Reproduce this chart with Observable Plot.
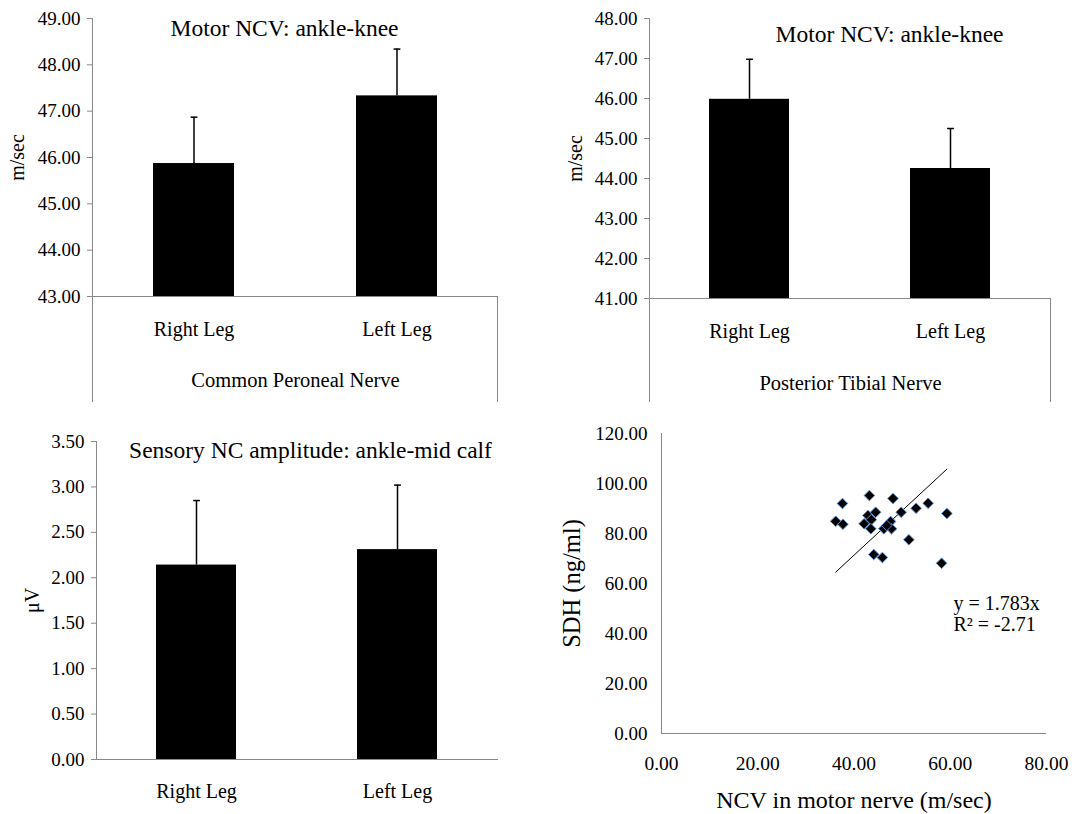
<!DOCTYPE html>
<html><head><meta charset="utf-8">
<script src="https://cdn.jsdelivr.net/npm/d3@7"></script>
<script src="https://cdn.jsdelivr.net/npm/@observablehq/plot@0.6"></script>
<style>
body{margin:0;background:#fff;}
#root{position:relative;width:1076px;height:814px;overflow:hidden;background:#fff;}
#root svg{position:absolute;}
#root svg, #root svg text{font-family:"Liberation Serif","Times New Roman",serif !important;}
</style></head><body><div id="root"></div>
<script>
// ---- data ----
const legs = ["Right Leg", "Left Leg"];
const peronealMean = [45.87, 47.33];
const peronealSD = [1.00, 1.01];
const tibialMean = [45.98, 44.25];
const tibialSD = [1.00, 1.00];
const sensoryMean = [2.14, 2.31];
const sensorySD = [0.71, 0.71];
const peronealTicks = [43, 44, 45, 46, 47, 48, 49];
const tibialTicks = [41, 42, 43, 44, 45, 46, 47, 48];
const sensoryTicks = [0, 0.5, 1, 1.5, 2, 2.5, 3, 3.5];
const ncv = [37.6, 43.2, 48.1, 36.2, 37.7, 42.1, 42.9, 43.6, 44.5, 43.5, 46.2, 47.6, 47.8, 46.8, 49.8, 52.9, 55.4, 59.3, 51.4, 44.1, 45.9, 58.2];
const sdh = [92.0, 95.2, 94.0, 84.9, 83.7, 83.9, 87.2, 85.5, 88.5, 81.9, 81.9, 84.8, 81.9, 83.2, 88.5, 90.1, 92.1, 88.0, 77.5, 71.6, 70.4, 68.1];
const slope = 1.783;
const r2 = -2.71;
const scatterXTicks = [0, 20, 40, 60, 80];
const scatterYTicks = [0, 20, 40, 60, 80, 100, 120];

// ---- style ----
const GRAY = "#888888";
const FONT = "'Liberation Serif', 'Times New Roman', serif";
const fmt = d3.format(".2f");
const capSymbol = {draw(ctx, size) { const r = Math.sqrt(size / Math.PI); ctx.moveTo(-r, 0); ctx.lineTo(r, 0); }};
const root = document.getElementById("root");

function axisLines(baseline, group) {
  return (index, scales, values, dims) => {
    const g = d3.create("svg:g").attr("stroke", GRAY).attr("stroke-width", 1);
    const xl = dims.marginLeft + 0.5, xr = dims.width - dims.marginRight - 0.5;
    const y0 = scales.y(baseline);
    g.append("line").attr("x1", xl).attr("x2", xl).attr("y1", dims.marginTop).attr("y2", group ? dims.height : y0);
    if (group) g.append("line").attr("x1", xr).attr("x2", xr).attr("y1", y0).attr("y2", dims.height);
    return g.node();
  };
}

const txt = (s, opts) => Plot.text([s], {text: d => d, fill: "black", fontFamily: FONT, textAnchor: "middle", lineAnchor: "middle", ...opts});

function barPanel(o) {
  const rows = legs.map((leg, i) => ({leg, mean: o.means[i], top: o.means[i] + o.sds[i]}));
  const base = o.ticks[0];
  const marks = [
    Plot.barY(rows, {x: "leg", y1: base, y2: "mean", fill: "black"}),
    Plot.ruleX(rows, {x: "leg", y1: "mean", y2: "top", stroke: "black", strokeWidth: 1.5}),
    Plot.dot(rows, {x: "leg", y: "top", symbol: capSymbol, r: 3.4, stroke: "black", strokeWidth: 1.5, fill: "none"}),
    Plot.ruleY([base], {stroke: GRAY}),
    axisLines(base, !!o.group),
    Plot.axisY({ticks: o.ticks, tickFormat: fmt, tickSize: 5, tickPadding: 7, stroke: GRAY, fill: "black", label: null, fontSize: 19, fontFamily: FONT}),
    Plot.axisX({tickSize: 0, tickPadding: o.tickPadX, label: null, fontSize: 20, fill: "black", fontFamily: FONT}),
    txt(o.title, {frameAnchor: "top", dx: o.titleDx, dy: o.titleDy, fontSize: 23.5}),
    txt(o.yLabel, {frameAnchor: "left", dx: o.yLabelDx, rotate: -90, fontSize: 20})
  ];
  if (o.group) marks.push(txt(o.group, {frameAnchor: "bottom", dy: o.groupDy, fontSize: 20.5}));
  const svg = Plot.plot({
    width: o.width, height: o.height,
    marginLeft: o.ml, marginRight: o.mr, marginTop: o.mt, marginBottom: o.mb,
    style: {fontFamily: FONT, fontSize: "19px", color: "black", background: "transparent", overflow: "visible"},
    x: {domain: legs, paddingInner: 0.6, paddingOuter: 0.3},
    y: {domain: [base, o.ticks[o.ticks.length - 1]]},
    marks
  });
  svg.style.left = o.left + "px"; svg.style.top = o.top + "px";
  root.appendChild(svg);
}

barPanel({means: peronealMean, sds: peronealSD, ticks: peronealTicks, yLabel: "m/sec",
  title: "Motor NCV: ankle-knee", titleDx: -11, titleDy: 10, group: "Common Peroneal Nerve", groupDy: 84,
  left: 0, top: 0, width: 538, height: 402, ml: 92, mr: 40, mt: 18, mb: 106, tickPadX: 25, yLabelDx: -75});

barPanel({means: tibialMean, sds: tibialSD, ticks: tibialTicks, yLabel: "m/sec",
  title: "Motor NCV: ankle-knee", titleDx: 39, titleDy: 16, group: "Posterior Tibial Nerve", groupDy: 85,
  left: 540, top: 0, width: 536, height: 402, ml: 109, mr: 25, mt: 18, mb: 104, tickPadX: 25, yLabelDx: -74});

barPanel({means: sensoryMean, sds: sensorySD, ticks: sensoryTicks, yLabel: "μV",
  title: "Sensory NC amplitude: ankle-mid calf", titleDx: 13, titleDy: 9, group: null,
  left: 0, top: 410, width: 538, height: 404, ml: 96, mr: 40, mt: 31, mb: 55, tickPadX: 24, yLabelDx: -64});

// ---- scatter ----
const points = ncv.map((x, i) => ({x, y: sdh[i]}));
const trend = d3.extent(ncv).map(x => ({x, y: slope * x}));
const scatter = Plot.plot({
  width: 536, height: 404, marginLeft: 121, marginRight: 30, marginTop: 23, marginBottom: 81,
  style: {fontFamily: FONT, fontSize: "19px", color: "black", background: "transparent", overflow: "visible"},
  x: {domain: [0, 80]},
  y: {domain: [0, 120]},
  marks: [
    Plot.ruleY([0], {stroke: GRAY}),
    axisLines(0, false),
    Plot.line(trend, {x: "x", y: "y", stroke: "black", strokeWidth: 1}),
    Plot.dot(points, {x: "x", y: "y", symbol: "diamond2", r: 4.8, fill: "black", stroke: "#5b8fd0", strokeWidth: 1}),
    Plot.axisY({ticks: scatterYTicks, tickFormat: fmt, tickSize: 0, tickPadding: 14, fill: "black", label: null, fontSize: 19, fontFamily: FONT}),
    Plot.axisX({ticks: scatterXTicks, tickFormat: fmt, tickSize: 0, tickPadding: 23, fill: "black", label: null, fontSize: 19.5, fontFamily: FONT}),
    txt("SDH (ng/ml)", {frameAnchor: "left", dx: -89, rotate: -90, fontSize: 24.5}),
    txt("NCV in motor nerve (m/sec)", {frameAnchor: "bottom", dy: 67, fontSize: 24}),
    txt(`y = ${slope}x\nR² = ${r2}`, {frameAnchor: "right", textAnchor: "start", dx: -93, dy: 30, lineHeight: 1.05, fontSize: 20})
  ]
});
scatter.style.left = "540px"; scatter.style.top = "410px";
root.appendChild(scatter);
</script>
</body></html>
